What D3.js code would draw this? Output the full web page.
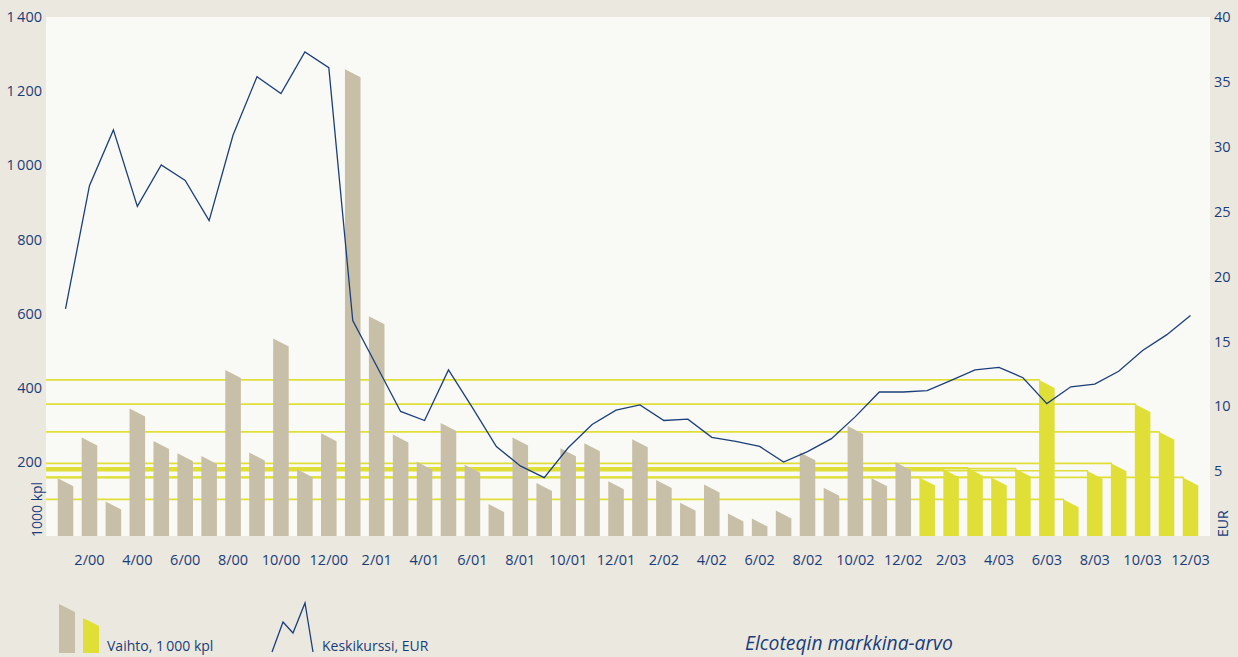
<!DOCTYPE html>
<html>
<head>
<meta charset="utf-8">
<script src="https://cdn.jsdelivr.net/npm/d3@7"></script>
<style>
  body { margin: 0; background: #ebe8e0; }
  svg text { font-family: "Open Sans", sans-serif; fill: #1a3d7a; }
</style>
</head>
<body>
<div id="chart"></div>
<script>
const months = [
  '1/00', '2/00', '3/00', '4/00', '5/00', '6/00', '7/00', '8/00', '9/00', '10/00', '11/00', '12/00',
  '1/01', '2/01', '3/01', '4/01', '5/01', '6/01', '7/01', '8/01', '9/01', '10/01', '11/01', '12/01',
  '1/02', '2/02', '3/02', '4/02', '5/02', '6/02', '7/02', '8/02', '9/02', '10/02', '11/02', '12/02',
  '1/03', '2/03', '3/03', '4/03', '5/03', '6/03', '7/03', '8/03', '9/03', '10/03', '11/03', '12/03'
];

// Vaihto, 1000 kpl
const volume = [
  156, 266, 93, 344, 256, 223, 216, 448, 225, 533, 180, 277,
  1259, 593, 274, 200, 305, 192, 86, 266, 143, 237, 250, 148,
  261, 151, 90, 139, 61, 47, 69, 226, 130, 297, 156, 199,
  158, 180, 184, 158, 182, 421, 99, 176, 196, 356, 281, 158
];

// Keskikurssi, EUR
const price = [
  17.5, 27.0, 31.3, 25.4, 28.6, 27.4, 24.3, 30.9, 35.4, 34.1, 37.3, 36.1,
  16.6, 13.1, 9.6, 8.9, 12.8, 9.9, 6.9, 5.4, 4.5, 6.8, 8.6, 9.7,
  10.1, 8.9, 9.0, 7.6, 7.3, 6.9, 5.7, 6.5, 7.5, 9.2, 11.1, 11.1,
  11.2, 12.0, 12.8, 13.0, 12.2, 10.2, 11.5, 11.7, 12.7, 14.3, 15.5, 17.0
];

const highlightMonths = months.slice(months.indexOf('1/03'));
const monthLabels = ['2/00', '4/00', '6/00', '8/00', '10/00', '12/00', '2/01', '4/01', '6/01', '8/01', '10/01', '12/01',
  '2/02', '4/02', '6/02', '8/02', '10/02', '12/02', '2/03', '4/03', '6/03', '8/03', '10/03', '12/03'];
const volTicks = [200, 400, 600, 800, 1000, 1200, 1400];
const volTickLabels = ['200', '400', '600', '800', '1\u2009000', '1\u2009200', '1\u2009400'];
const priceTicks = [5, 10, 15, 20, 25, 30, 35, 40];

const width = 1238, height = 657;
const plotLeft = 46, plotRight = 1210, plotTop = 17, plotBottom = 536;
const slant = 8;
const grey = '#c7bfa7', yellow = '#e0df37', blue = '#1c3f7c';

const svg = d3.select('#chart')
  .append('svg')
  .attr('width', width)
  .attr('height', height)
  .style('display', 'block');

svg.append('rect')
  .attr('width', width)
  .attr('height', height)
  .attr('fill', '#ebe8e0');

svg.append('rect')
  .attr('x', plotLeft)
  .attr('y', plotTop)
  .attr('width', plotRight - plotLeft)
  .attr('height', plotBottom - plotTop)
  .attr('fill', '#f9f9f5');

const xScale = d3.scaleBand()
  .domain(months)
  .range([52, 1204])
  .paddingInner(0.35)
  .paddingOuter(0.24);

const yVol = d3.scaleLinear().domain([0, 1400]).range([plotBottom, plotTop]);
const yPrice = d3.scaleLinear().domain([0, 40]).range([plotBottom, plotTop]);

const data = months.map((m, i) => ({ month: m, vol: volume[i], price: price[i], hl: highlightMonths.includes(m) }));

// guide lines from the left edge to each highlighted bar top
svg.selectAll('.guide')
  .data(data.filter(d => d.hl))
  .enter()
    .append('line')
    .attr('class', 'guide')
    .attr('x1', plotLeft)
    .attr('x2', d => xScale(d.month) + 1)
    .attr('y1', d => yVol(d.vol))
    .attr('y2', d => yVol(d.vol))
    .attr('stroke', yellow)
    .attr('stroke-width', 1.7);

const bw = xScale.bandwidth();
svg.selectAll('.bar')
  .data(data)
  .enter()
    .append('path')
    .attr('class', 'bar')
    .attr('d', d => {
      const x0 = xScale(d.month), y0 = yVol(d.vol);
      return `M${x0},${plotBottom}L${x0},${y0}L${x0 + bw},${y0 + slant}L${x0 + bw},${plotBottom}Z`;
    })
    .attr('fill', d => d.hl ? yellow : grey);

const line = d3.line()
  .x(d => xScale(d.month) + bw / 2)
  .y(d => yPrice(d.price));

svg.append('path')
  .datum(data)
  .attr('d', line)
  .attr('fill', 'none')
  .attr('stroke', blue)
  .attr('stroke-width', 1.3)
  .attr('stroke-linejoin', 'miter');

const yAxisLeft = d3.axisLeft(yVol)
  .tickValues(volTicks)
  .tickFormat((d, i) => volTickLabels[i])
  .tickSize(0)
  .tickPadding(4);

const yAxisRight = d3.axisRight(yPrice)
  .tickValues(priceTicks)
  .tickSize(0)
  .tickPadding(4);

const xAxis = d3.axisBottom(xScale)
  .tickValues(monthLabels)
  .tickSize(0)
  .tickPadding(19);

svg.append('g')
  .attr('transform', 'translate(' + plotLeft + ',0)')
  .call(yAxisLeft)
  .call(g => g.select('.domain').remove());

svg.append('g')
  .attr('transform', 'translate(' + plotRight + ',0)')
  .call(yAxisRight)
  .call(g => g.select('.domain').remove());

svg.append('g')
  .attr('transform', 'translate(0,' + plotBottom + ')')
  .call(xAxis)
  .call(g => g.select('.domain').remove());

svg.selectAll('.tick text')
  .attr('font-size', '14.5px')
  .attr('font-family', null)
  .attr('fill', null);

svg.append('text')
  .attr('transform', 'translate(42,' + (plotBottom + 1) + ') rotate(-90)')
  .attr('font-size', '14px')
  .text('1000 kpl');

svg.append('text')
  .attr('transform', 'translate(1228,' + (plotBottom + 1) + ') rotate(-90)')
  .attr('font-size', '14px')
  .text('EUR');

// legend
const legend = svg.append('g');

legend.append('path')
  .attr('d', 'M59,653L59,604L75,612L75,653Z')
  .attr('fill', grey);

legend.append('path')
  .attr('d', 'M83,653L83,618L99,626L99,653Z')
  .attr('fill', yellow);

legend.append('text')
  .attr('x', 107)
  .attr('y', 651)
  .attr('font-size', '14px')
  .text('Vaihto, 1\u2009000 kpl');

legend.append('path')
  .attr('d', 'M272,652L283,622L293,633L305,603L313,652')
  .attr('fill', 'none')
  .attr('stroke', blue)
  .attr('stroke-width', 1.3);

legend.append('text')
  .attr('x', 322)
  .attr('y', 651)
  .attr('font-size', '14px')
  .text('Keskikurssi, EUR');

svg.append('text')
  .attr('x', 745)
  .attr('y', 650)
  .attr('font-size', '19.3px')
  .attr('font-style', 'italic')
  .text('Elcoteqin markkina-arvo');
</script>
</body>
</html>
